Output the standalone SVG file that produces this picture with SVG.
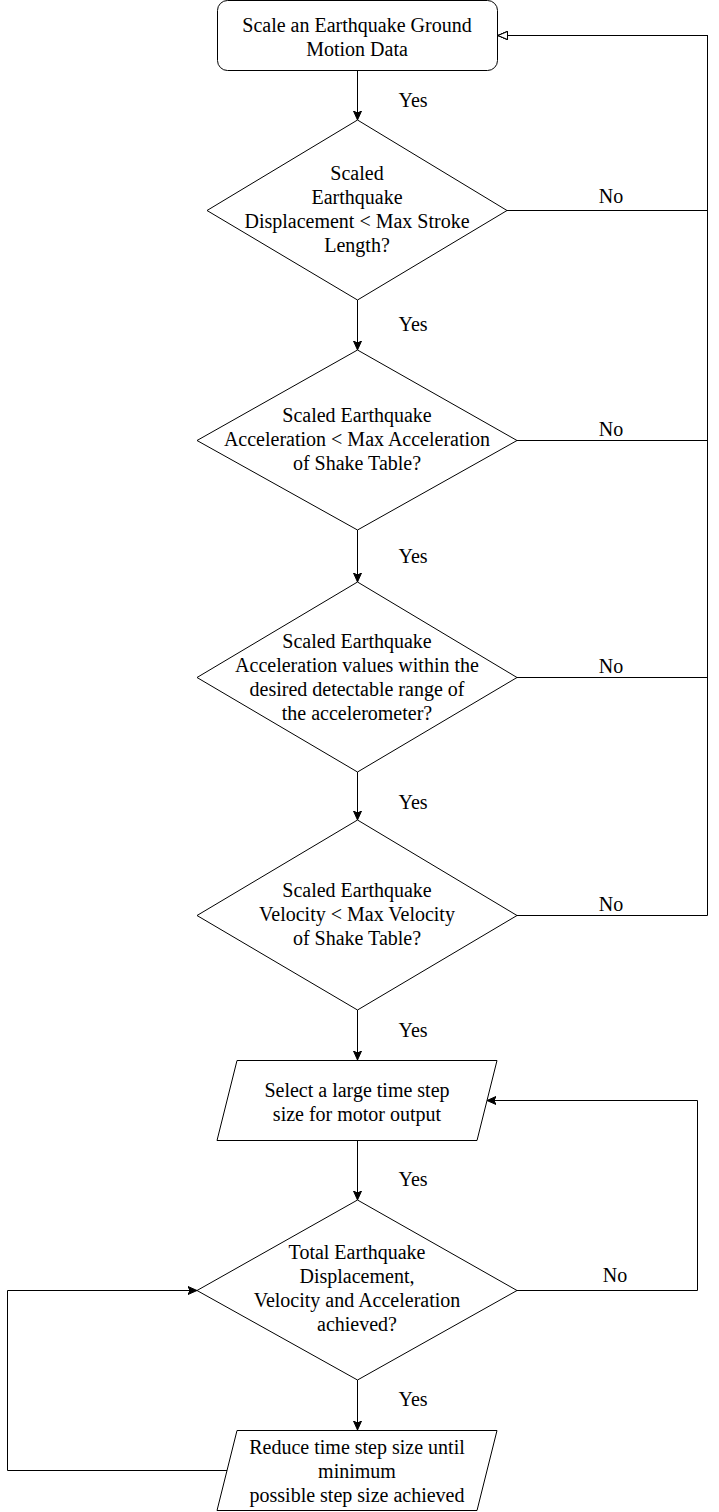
<svg xmlns="http://www.w3.org/2000/svg" width="719" height="1512" viewBox="0 0 719 1512">
<style>
  .shape { fill: #ffffff; stroke: #000000; stroke-width: 1; }
  .edge { fill: none; stroke: #000000; stroke-width: 1; }
  text { font-family: "Liberation Serif", "Times New Roman", serif; font-size: 20px; fill: #000000; text-anchor: middle; }
</style>
<defs>
  <marker id="arrow" markerUnits="userSpaceOnUse" markerWidth="10" markerHeight="10" viewBox="0 0 10 10" refX="9" refY="4.5" orient="auto">
    <path d="M0,0.5 L9,4.5 L0,8.5 L2,4.5 Z" fill="#000000" stroke="#000000" stroke-width="1"/>
  </marker>
  <marker id="openArrow" markerUnits="userSpaceOnUse" markerWidth="12" markerHeight="12" viewBox="0 0 12 12" refX="10.5" refY="6" orient="auto">
    <path d="M1,2 L10.5,6 L1,10 Z" fill="#ffffff" stroke="#000000" stroke-width="1"/>
  </marker>
</defs>

<g id="connectors">
  <path class="edge" d="M357.5,70.5 V120" marker-end="url(#arrow)"/>
  <path class="edge" d="M357.5,300 V350" marker-end="url(#arrow)"/>
  <path class="edge" d="M357.5,530 V582" marker-end="url(#arrow)"/>
  <path class="edge" d="M357.5,772 V820" marker-end="url(#arrow)"/>
  <path class="edge" d="M357.5,1010 V1060" marker-end="url(#arrow)"/>
  <path class="edge" d="M357.5,1140 V1200" marker-end="url(#arrow)"/>
  <path class="edge" d="M357.5,1380 V1430" marker-end="url(#arrow)"/>
  <path class="edge" d="M507,210.5 H707.5 V35.5 H498" marker-end="url(#openArrow)"/>
  <path class="edge" d="M517,440.5 H707.5 V35.5 H498" marker-end="url(#openArrow)"/>
  <path class="edge" d="M517,677.5 H707.5 V35.5 H498" marker-end="url(#openArrow)"/>
  <path class="edge" d="M517,915.5 H707.5 V35.5 H498" marker-end="url(#openArrow)"/>
  <path class="edge" d="M517,1290.5 H697.5 V1100.5 H487" marker-end="url(#arrow)"/>
  <path class="edge" d="M227,1470.5 H7.5 V1290.5 H197" marker-end="url(#arrow)"/>
  <text x="413" y="107">Yes</text>
  <text x="413" y="331">Yes</text>
  <text x="413" y="563">Yes</text>
  <text x="413" y="809">Yes</text>
  <text x="413" y="1037">Yes</text>
  <text x="413" y="1186">Yes</text>
  <text x="413" y="1406">Yes</text>
  <text x="611" y="203">No</text>
  <text x="611" y="436">No</text>
  <text x="611" y="673">No</text>
  <text x="611" y="911">No</text>
  <text x="615" y="1282">No</text>
</g>

<g id="start">
  <rect class="shape" x="217.5" y="0.5" width="280" height="70" rx="10" ry="10"/>
  <text x="357" y="32">Scale an Earthquake Ground</text>
  <text x="357" y="55.5">Motion Data</text>
</g>

<g id="check-displacement">
  <polygon class="shape" points="357.5,120 507,210.5 357.5,300 207,210.5"/>
  <text x="357" y="180">Scaled</text>
  <text x="357" y="204">Earthquake</text>
  <text x="357" y="228">Displacement &lt; Max Stroke</text>
  <text x="357" y="252">Length?</text>
</g>

<g id="check-acceleration">
  <polygon class="shape" points="357.5,350 517,440.5 357.5,530 197,440.5"/>
  <text x="357" y="422">Scaled Earthquake</text>
  <text x="357" y="446">Acceleration &lt; Max Acceleration</text>
  <text x="357" y="470">of Shake Table?</text>
</g>

<g id="check-range">
  <polygon class="shape" points="357.5,582 517,677.5 357.5,772 197,677.5"/>
  <text x="357" y="648">Scaled Earthquake</text>
  <text x="357" y="672">Acceleration values within the</text>
  <text x="357" y="696">desired detectable range of</text>
  <text x="357" y="720">the accelerometer?</text>
</g>

<g id="check-velocity">
  <polygon class="shape" points="357.5,820 517,915.5 357.5,1010 197,915.5"/>
  <text x="357" y="897">Scaled Earthquake</text>
  <text x="357" y="921">Velocity &lt; Max Velocity</text>
  <text x="357" y="945">of Shake Table?</text>
</g>

<g id="select-step">
  <polygon class="shape" points="237,1060.5 497,1060.5 477,1140.5 217,1140.5"/>
  <text x="357" y="1097">Select a large time step</text>
  <text x="357" y="1121">size for motor output</text>
</g>

<g id="check-total">
  <polygon class="shape" points="357.5,1200 517,1290.5 357.5,1380 197,1290.5"/>
  <text x="357" y="1259">Total Earthquake</text>
  <text x="357" y="1283">Displacement,</text>
  <text x="357" y="1307">Velocity and Acceleration</text>
  <text x="357" y="1331">achieved?</text>
</g>

<g id="reduce-step">
  <polygon class="shape" points="237,1430.5 497,1430.5 477,1510.5 217,1510.5"/>
  <text x="357" y="1454">Reduce time step size until</text>
  <text x="357" y="1478">minimum</text>
  <text x="357" y="1502">possible step size achieved</text>
</g>
</svg>
